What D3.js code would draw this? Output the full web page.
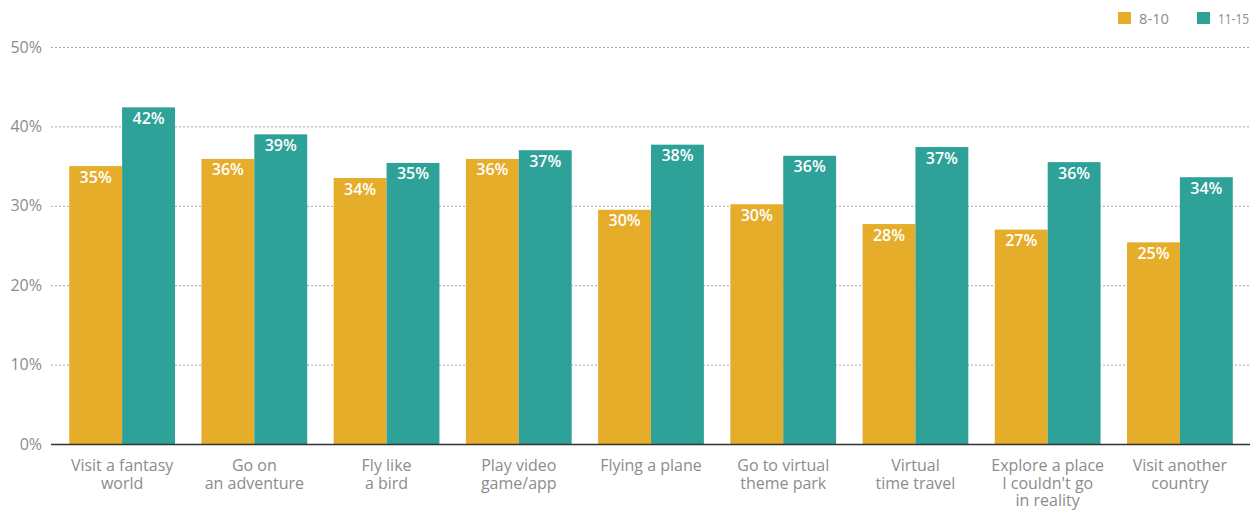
<!DOCTYPE html>
<html>
<head>
<meta charset="utf-8">
<script src="https://cdn.jsdelivr.net/npm/d3@7"></script>
<style>
  body { margin: 0; background: #fff; }
  svg { display: block; font-family: "Open Sans", "Lato", sans-serif; }
</style>
</head>
<body>
<svg id="chart" width="1257" height="513"></svg>
<script>
const width = 1257;
const height = 513;

// data
const categories = [
    ["Visit a fantasy", "world"],
    ["Go on", "an adventure"],
    ["Fly like", "a bird"],
    ["Play video", "game/app"],
    ["Flying a plane"],
    ["Go to virtual", "theme park"],
    ["Virtual", "time travel"],
    ["Explore a place", "I couldn't go", "in reality"],
    ["Visit another", "country"]
];
const series = ["8-10", "11-15"];
const values8to10 = [35.0, 35.9, 33.5, 35.9, 29.5, 30.2, 27.7, 27.0, 25.4];
const values11to15 = [42.4, 39.0, 35.4, 37.0, 37.7, 36.3, 37.4, 35.5, 33.6];
const yTicks = [0, 10, 20, 30, 40, 50];

const colors = ["#E6AD2A", "#2EA198"];

const svg = d3.select("#chart");

const plotLeft = 51, plotRight = 1250;
const yScale = d3.scaleLinear().domain([0, 50]).range([444, 47]);
const x0 = d3.scaleBand()
    .domain(d3.range(categories.length))
    .range([56, 1246])
    .paddingInner(0.2)
    .paddingOuter(0.1);
const x1 = d3.scaleBand()
    .domain(series)
    .range([0, x0.bandwidth()]);

// grid lines
svg.append("g")
    .selectAll("line")
    .data(yTicks.filter(d => d > 0))
    .join("line")
    .attr("x1", plotLeft)
    .attr("x2", plotRight)
    .attr("y1", d => yScale(d) + 0.5)
    .attr("y2", d => yScale(d) + 0.5)
    .attr("stroke", "#a8a8a8")
    .attr("stroke-width", 1)
    .attr("stroke-dasharray", "2,2");

// y labels
svg.append("g")
    .selectAll("text")
    .data(yTicks)
    .join("text")
    .attr("x", 42)
    .attr("y", d => yScale(d) + 5.5)
    .attr("text-anchor", "end")
    .attr("font-size", "16px")
    .attr("fill", "#8c8c8c")
    .text(d => d + "%");

// bars
const rows = categories.map((c, i) => ({ i: i, vals: [values8to10[i], values11to15[i]] }));
const groups = svg.append("g")
    .selectAll("g")
    .data(rows)
    .join("g")
    .attr("transform", d => `translate(${x0(d.i)},0)`);

groups.selectAll("rect")
    .data(d => d.vals.map((v, k) => ({ key: series[k], value: v, k: k })))
    .join("rect")
    .attr("x", d => x1(d.key))
    .attr("y", d => yScale(d.value))
    .attr("width", x1.bandwidth())
    .attr("height", d => yScale(0) - yScale(d.value))
    .attr("fill", d => colors[d.k]);

groups.selectAll("text.val")
    .data(d => d.vals.map((v, k) => ({ key: series[k], value: v })))
    .join("text")
    .attr("class", "val")
    .attr("x", d => x1(d.key) + x1.bandwidth() / 2)
    .attr("y", d => yScale(d.value) + 16.5)
    .attr("text-anchor", "middle")
    .attr("font-size", "16px")
    .attr("font-weight", 600)
    .attr("fill", "#fff")
    .text(d => Math.round(d.value) + "%");

// baseline
svg.append("line")
    .attr("x1", plotLeft)
    .attr("x2", plotRight)
    .attr("y1", yScale(0) + 0.5)
    .attr("y2", yScale(0) + 0.5)
    .attr("stroke", "#333")
    .attr("stroke-width", 1.5);

// category labels
const xLabels = svg.append("g")
    .selectAll("text")
    .data(rows)
    .join("text")
    .attr("text-anchor", "middle")
    .attr("font-size", "16px")
    .attr("fill", "#8c8c8c");
xLabels.selectAll("tspan")
    .data(d => categories[d.i].map(line => ({ line: line, x: x0(d.i) + x0.bandwidth() / 2 })))
    .join("tspan")
    .attr("x", d => d.x)
    .attr("y", (d, j) => 471 + j * 17.5)
    .text(d => d.line);

// legend
const legendX = [1118, 1197];
const legendW = [30, 31];
const legend = svg.append("g")
    .selectAll("g")
    .data(series)
    .join("g")
    .attr("transform", (d, k) => `translate(${legendX[k]},12)`);
legend.append("rect")
    .attr("width", 13)
    .attr("height", 12)
    .attr("fill", (d, k) => colors[k]);
legend.append("text")
    .attr("x", 21)
    .attr("y", 12)
    .attr("font-size", "15px")
    .attr("fill", "#8c8c8c")
    .attr("textLength", (d, k) => legendW[k])
    .attr("lengthAdjust", "spacingAndGlyphs")
    .text(d => d);
</script>
</body>
</html>
